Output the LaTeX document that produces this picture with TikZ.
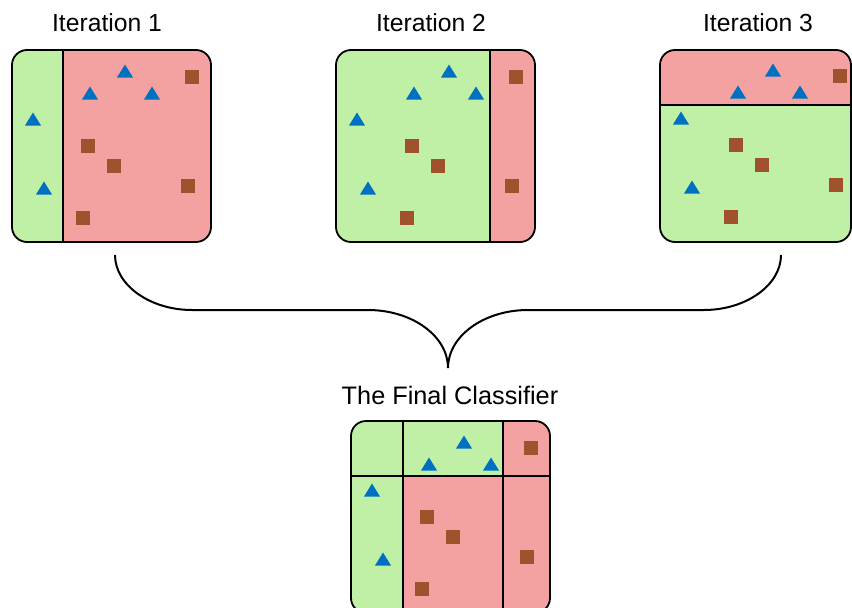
\documentclass[tikz,border=0pt]{standalone}
\usepackage{fontspec}
\setmainfont{Liberation Sans}
\definecolor{zgreen}{RGB}{191,240,166}
\definecolor{zred}{RGB}{244,161,161}
\definecolor{zblue}{RGB}{0,112,192}
\definecolor{zbrown}{RGB}{160,82,45}
\tikzset{
  tri/.pic={\fill[zblue] (0,-6.5) -- (8,6.5) -- (-8,6.5) -- cycle;},
  sqr/.pic={\fill[zbrown] (-7,-7) rectangle (7,7);},
  border/.style={draw=black, line width=1.8pt, rounded corners=15pt},
  divider/.style={draw=black, line width=1.6pt},
  title/.style={anchor=base, inner sep=0pt, font=\fontsize{24.7}{30}\selectfont},
  brace/.style={draw=black, line width=2pt}
}
\newcommand{\zpoints}[2]{%
  \begin{scope}[shift={(#1,#2)}]
    \foreach \px/\py in {113/21,78/43,140/43,21/69,32/138}{\pic at (\px,\py) {tri};}
    \foreach \px/\py in {180/27,76/96,102/116,176/136,71/168}{\pic at (\px,\py) {sqr};}
  \end{scope}}
\begin{document}
\begin{tikzpicture}[x=1pt,y=-1pt]
\useasboundingbox (0,0) rectangle (852,608);
% titles
\node[title] (t1) at (107,31) {Iteration 1};
\node[title] (t2) at (431,31) {Iteration 2};
\node[title] (t3) at (758,31) {Iteration 3};
\node[title, font=\fontsize{25.3}{30}\selectfont] (tf) at (450,404) {The Final Classifier};
% box 1
\begin{scope}
  \clip[rounded corners=15pt] (12,50) rectangle (211,242);
  \fill[zred] (12,50) rectangle (211,242);
  \fill[zgreen] (12,50) rectangle (63,242);
  \draw[divider] (63,50) -- (63,242);
\end{scope}
\draw[border] (12,50) rectangle (211,242);
\zpoints{12}{50}
% box 2
\begin{scope}
  \clip[rounded corners=15pt] (336,50) rectangle (535,242);
  \fill[zgreen] (336,50) rectangle (535,242);
  \fill[zred] (490,50) rectangle (535,242);
  \draw[divider] (490,50) -- (490,242);
\end{scope}
\draw[border] (336,50) rectangle (535,242);
\zpoints{336}{50}
% box 3
\begin{scope}
  \clip[rounded corners=15pt] (660,50) rectangle (851,242);
  \fill[zgreen] (660,50) rectangle (851,242);
  \fill[zred] (660,50) rectangle (851,105);
  \draw[divider] (660,105) -- (851,105);
\end{scope}
\draw[border] (660,50) rectangle (851,242);
\zpoints{660}{49}
% final box
\begin{scope}
  \clip[rounded corners=15pt] (351,421) rectangle (550,613);
  \fill[zred] (351,421) rectangle (550,613);
  \fill[zgreen] (351,421) rectangle (503,476);
  \fill[zgreen] (351,421) rectangle (403,613);
  \draw[divider] (403,421) -- (403,613);
  \draw[divider] (503,421) -- (503,613);
  \draw[divider] (351,476) -- (550,476);
\end{scope}
\draw[border] (351,421) rectangle (550,613);
\zpoints{351}{421}
% brace
\coordinate (bl) at (115,255);
\coordinate (br) at (781,255);
\coordinate (btip) at (448,368);
\draw[brace] (bl) .. controls (115,285) and (150,310) .. (192,310) -- (368,310)
  .. controls (412,310) and (448,336) .. (btip);
\draw[brace] (br) .. controls (781,285) and (746,310) .. (704,310) -- (528,310)
  .. controls (484,310) and (448,336) .. (btip);
\end{tikzpicture}
\end{document}
